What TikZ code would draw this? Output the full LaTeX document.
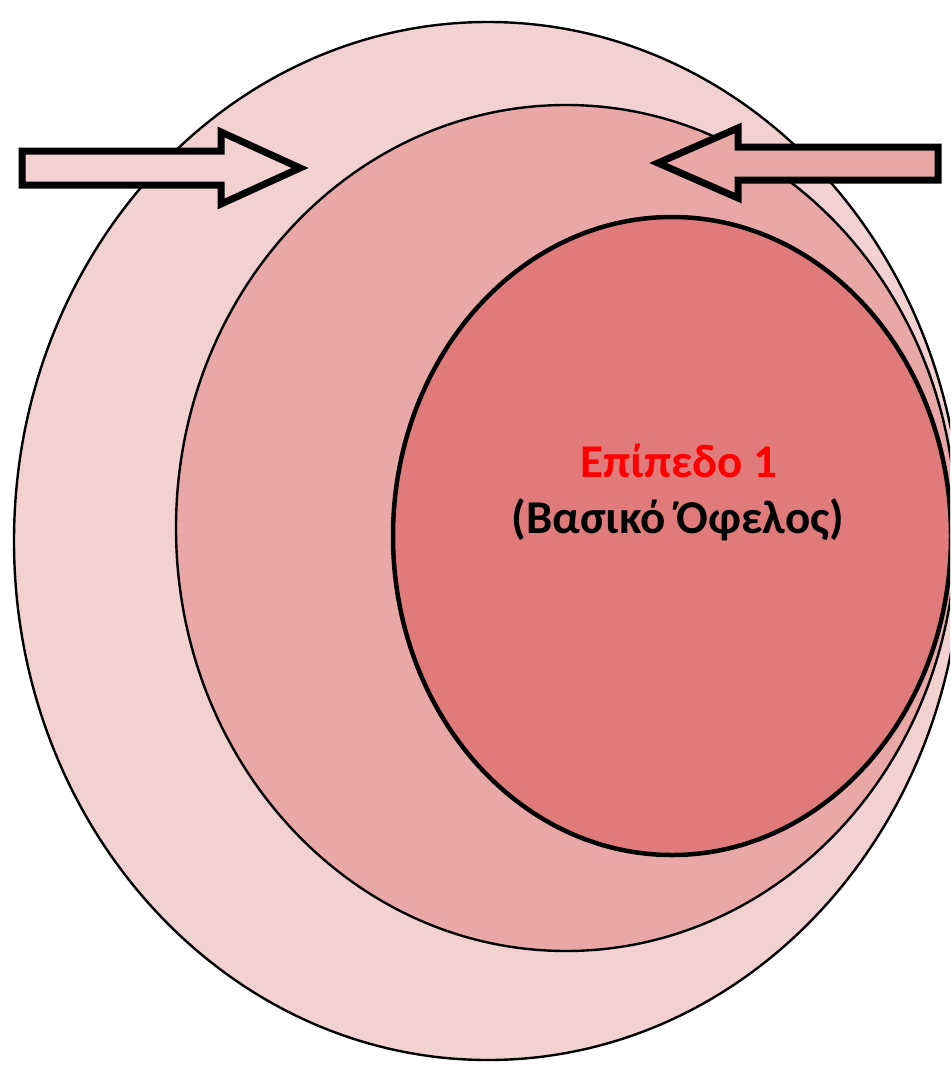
\documentclass[tikz,border=0pt]{standalone}
\usepackage{fontspec}
\setmainfont{Carlito}
\definecolor{outerc}{HTML}{F4D1D1}
\definecolor{midc}{HTML}{EAA7A7}
\definecolor{innerc}{HTML}{E17B7B}
\definecolor{redtxt}{HTML}{FF0000}
\begin{document}
\begin{tikzpicture}[x=1pt,y=-1pt,
  ring/.style={draw=black,line width=2.4pt},
  bigarrow/.style={draw=black,line width=7pt,miter limit=10},
  lbl/.style={font=\fontsize{47}{56}\selectfont\bfseries, align=center, anchor=base}]
\useasboundingbox (0,0) rectangle (950,1065);
\clip (0,0) rectangle (950,1065);
% ellipses
\path[ring,fill=outerc] (488,541) ellipse [x radius=474, y radius=519];
\path[ring,fill=midc] (566,528) ellipse [x radius=390, y radius=423];
\path[draw=black,line width=4.5pt,fill=innerc] (672,536) ellipse [x radius=279, y radius=319];
% arrows
\path[bigarrow,fill=outerc] (22,151) -- (221,151) -- (221,132) -- (300,168) -- (221,204) -- (221,185) -- (22,185) -- cycle;
\path[bigarrow,fill=midc] (938,147) -- (738,147) -- (738,128) -- (658,163) -- (738,198) -- (738,180) -- (938,180) -- cycle;
% text
\node[lbl] (t1) at (679,477) {\textcolor{redtxt}{Επίπεδο 1}};
\node[lbl] (t2) at (678,533) {(Βασικό Όφελος)};
\end{tikzpicture}
\end{document}
